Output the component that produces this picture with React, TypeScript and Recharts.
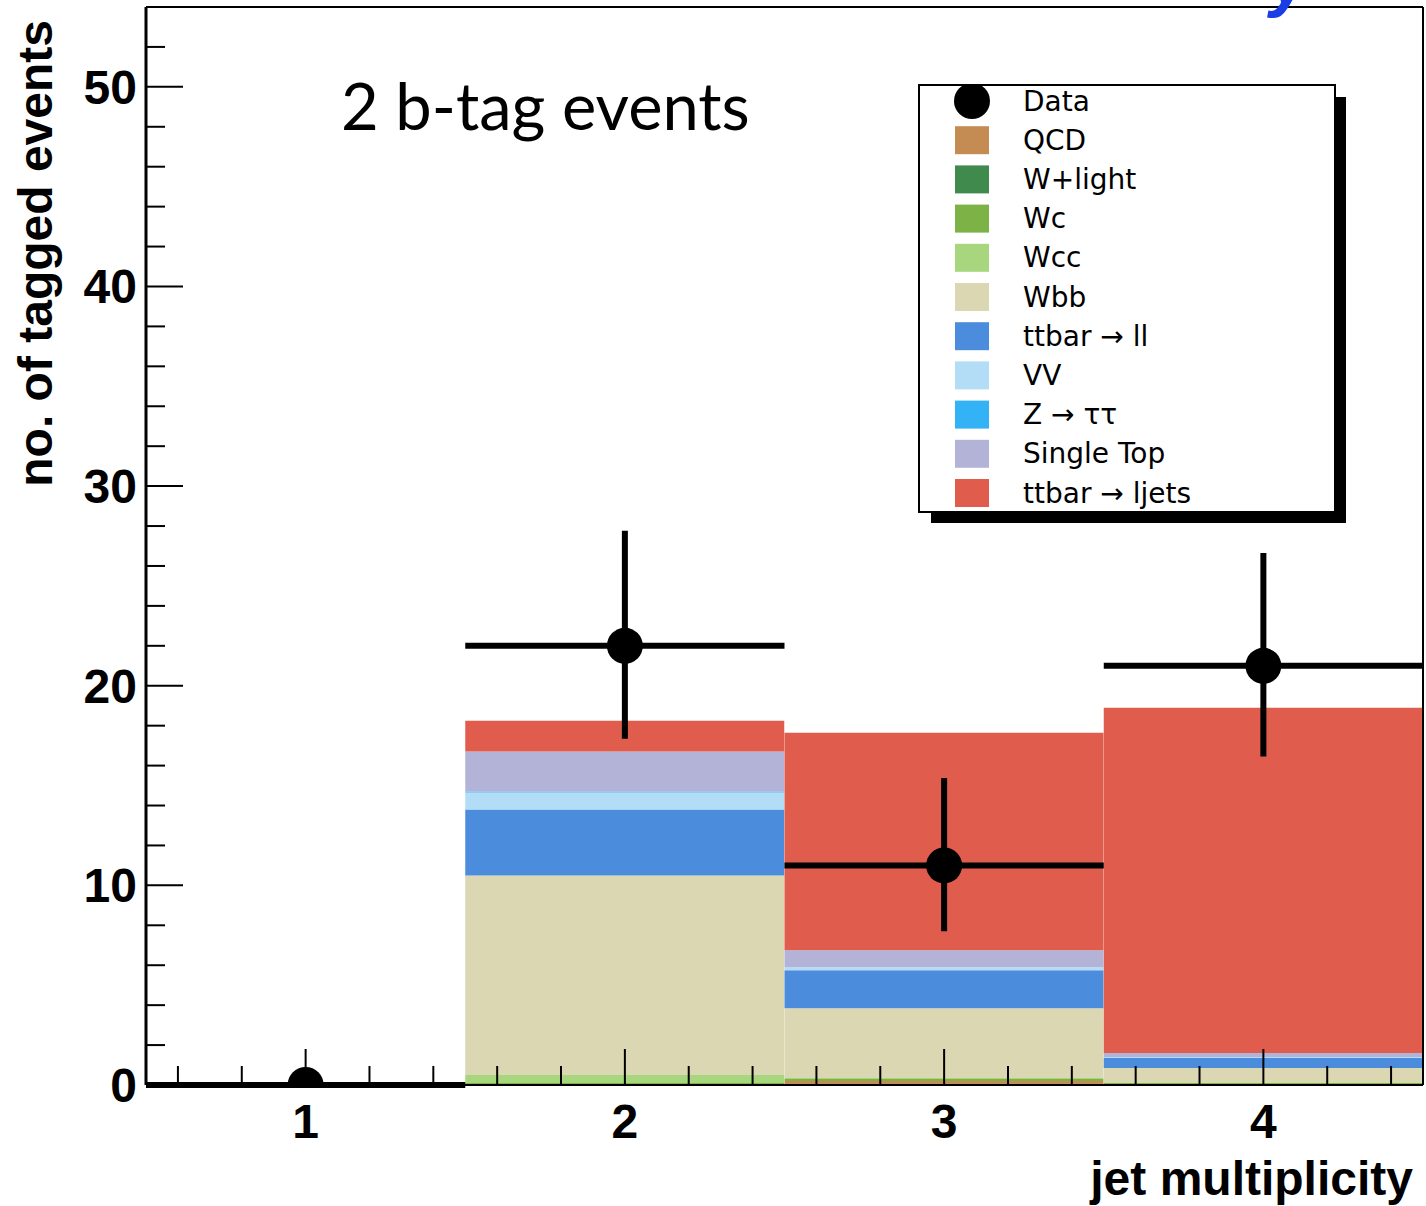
import {
  Bar,
  ComposedChart,
  ErrorBar,
  Label,
  Legend,
  ReferenceLine,
  Scatter,
  XAxis,
  YAxis,
} from "recharts";

// jet-multiplicity bins
const bins = ["1", "2", "3", "4"];
const binCentres = [1, 2, 3, 4];
const binHalfWidth = [0.5, 0.5, 0.5, 0.5];

// expected events per bin, stacked bottom to top
const qcd = [0, 0, 0.2, 0.05];
const wLight = [0, 0, 0, 0];
const wc = [0, 0.1, 0.1, 0.05];
const wcc = [0, 0.4, 0.05, 0];
const wbb = [0, 10.0, 3.5, 0.75];
const ttDilepton = [0, 3.3, 1.9, 0.5];
const diboson = [0, 0.85, 0.15, 0.05];
const zTauTau = [0, 0.05, 0, 0];
const singleTop = [0, 2.0, 0.85, 0.2];
const ttLjets = [0, 1.55, 10.9, 17.3];

// observed counts with asymmetric Poisson errors
const observed = [0, 22, 11, 21];
const errDown = [0, 4.65, 3.3, 4.55];
const errUp = [0, 5.76, 4.38, 5.65];

const yTicks = [0, 2, 4, 6, 8, 10, 12, 14, 16, 18, 20, 22, 24, 26, 28, 30, 32, 34, 36, 38, 40, 42, 44, 46, 48, 50, 52];
const xTicks = [0.6, 0.8, 1, 1.2, 1.4, 1.6, 1.8, 2, 2.2, 2.4, 2.6, 2.8, 3, 3.2, 3.4, 3.6, 3.8, 4, 4.2, 4.4];

const components = [
  { key: "qcd", name: "QCD", color: "#c48c52", values: qcd },
  { key: "wLight", name: "W+light", color: "#3f8a4c", values: wLight },
  { key: "wc", name: "Wc", color: "#7cb246", values: wc },
  { key: "wcc", name: "Wcc", color: "#a8d67e", values: wcc },
  { key: "wbb", name: "Wbb", color: "#dad7b2", values: wbb },
  { key: "ttDilepton", name: "ttbar \u2192 ll", color: "#4b8ddc", values: ttDilepton },
  { key: "diboson", name: "VV", color: "#b3dcf6", values: diboson },
  { key: "zTauTau", name: "Z \u2192 \u03c4\u03c4", color: "#34b2f6", values: zTauTau },
  { key: "singleTop", name: "Single Top", color: "#b3b3d8", values: singleTop },
  { key: "ttLjets", name: "ttbar \u2192 ljets", color: "#e05c4d", values: ttLjets },
];

const rows = bins.map((bin, i) => {
  const row: Record<string, unknown> = {
    bin,
    x: binCentres[i],
    data: observed[i],
    xErr: binHalfWidth[i],
    yErr: [errDown[i], errUp[i]],
  };
  components.forEach((c) => {
    row[c.key] = c.values[i];
  });
  return row;
});

const boldFont = "'Liberation Sans', Arial, Helvetica, sans-serif";

function YTick({ x, y, payload }: any) {
  const v = payload.value as number;
  const major = v % 10 === 0;
  return (
    <g>
      <line x1={x} y1={y} x2={x + (major ? 37 : 19)} y2={y} stroke="#000" strokeWidth={2} />
      {major && (
        <text x={x - 9} y={y + 17} textAnchor="end" fontFamily={boldFont} fontWeight="bold" fontSize={48} fill="#000">
          {v}
        </text>
      )}
    </g>
  );
}

function XTick({ x, y, payload }: any) {
  const v = payload.value as number;
  const major = Math.abs(v - Math.round(v)) < 1e-6;
  return (
    <g>
      <line x1={x} y1={y} x2={x} y2={y - (major ? 36 : 19)} stroke="#000" strokeWidth={2} />
      {major && (
        <text x={x} y={y + 53} textAnchor="middle" fontFamily={boldFont} fontWeight="bold" fontSize={48} fill="#000">
          {Math.round(v)}
        </text>
      )}
    </g>
  );
}

function DataDot({ cx, cy }: any) {
  return <circle cx={cx} cy={cy} r={18} fill="#000" />;
}

// ROOT-style legend box with drop shadow
function LegendBox() {
  const rowStep = 39.2;
  const first = 17;
  return (
    <svg width={432} height={442} style={{ display: "block" }}>
      <rect x={418} y={13} width={10} height={426} fill="#000" />
      <rect x={13} y={429} width={415} height={10} fill="#000" />
      <rect x={1} y={1} width={416} height={427} fill="#fff" stroke="#000" strokeWidth={2} />
      <circle cx={54} cy={first} r={18} fill="#000" />
      <text x={105} y={first} dominantBaseline="central" fontFamily="'DejaVu Sans', sans-serif" fontSize={28} fill="#000">
        Data
      </text>
      {components.map((c, i) => {
        const cy = first + rowStep * (i + 1);
        return (
          <g key={c.key}>
            <rect x={37} y={cy - 14} width={34} height={28} fill={c.color} />
            <text x={105} y={cy} dominantBaseline="central" fontFamily="'DejaVu Sans', sans-serif" fontSize={28} fill="#000">
              {c.name}
            </text>
          </g>
        );
      })}
    </svg>
  );
}

export default function App() {
  return (
    <div
      style={{
        position: "absolute",
        left: 0,
        top: 0,
        width: 1426,
        height: 1206,
        background: "#fff",
        overflow: "hidden",
      }}
    >
      <ComposedChart
        width={1426}
        height={1206}
        data={rows}
        margin={{ top: 7, right: 3, left: 0, bottom: 0 }}
        barCategoryGap={0}
        barGap={0}
      >
        <XAxis
          xAxisId="num"
          dataKey="x"
          type="number"
          domain={[0.5, 4.5]}
          allowDataOverflow
          ticks={xTicks}
          interval={0}
          height={121}
          tickSize={0}
          tickMargin={0}
          tickLine={false}
          tick={<XTick />}
          axisLine={{ stroke: "#000", strokeWidth: 2 }}
        >
          <Label
            content={() => (
              <text x={1413} y={1195} textAnchor="end" fontFamily={boldFont} fontWeight="bold" fontSize={48} fill="#000">
                jet multiplicity
              </text>
            )}
          />
        </XAxis>
        <XAxis xAxisId="bins" dataKey="bin" type="category" hide height={0} />
        {components.map((c) => (
          <Bar
            key={c.key}
            xAxisId="bins"
            dataKey={c.key}
            name={c.name}
            stackId="mc"
            fill={c.color}
            isAnimationActive={false}
          />
        ))}
        <YAxis
          type="number"
          domain={[0, 54]}
          allowDataOverflow
          ticks={yTicks}
          interval={0}
          width={146}
          tickSize={0}
          tickMargin={0}
          tickLine={false}
          tick={<YTick />}
          axisLine={{ stroke: "#000", strokeWidth: 3 }}
        >
          <Label
            content={() => (
              <text
                transform="rotate(-90)"
                x={-20}
                y={52}
                textAnchor="end"
                fontFamily={boldFont}
                fontWeight="bold"
                fontSize={48}
                fill="#000"
              >
                no. of tagged events
              </text>
            )}
          />
        </YAxis>
        <ReferenceLine y={54} stroke="#000" strokeWidth={2} />
        <ReferenceLine x={4.5} xAxisId="num" stroke="#000" strokeWidth={2} />
        <Scatter xAxisId="num" dataKey="data" name="Data" fill="#000" shape={<DataDot />} isAnimationActive={false}>
          <ErrorBar dataKey="xErr" direction="x" width={0} stroke="#000" strokeWidth={6} />
          <ErrorBar dataKey="yErr" direction="y" width={0} stroke="#000" strokeWidth={6} />
        </Scatter>
        <Legend
          layout="vertical"
          align="center"
          verticalAlign="middle"
          content={() => <LegendBox />}
          wrapperStyle={{ left: 918, top: 84, width: 432, height: 442 }}
        />
      </ComposedChart>
      <svg
        width={1426}
        height={1206}
        style={{ position: "absolute", left: 0, top: 0, pointerEvents: "none" }}
      >
        <text x={341} y={130} fontFamily="Lato, 'Open Sans', sans-serif" fontSize={65} fill="#000">
          2 b-tag events
        </text>
        <text
          x={1270}
          y={3}
          fontFamily={boldFont}
          fontStyle="italic"
          fontWeight="bold"
          fontSize={70}
          fill="#1a3de6"
        >
          y
        </text>
      </svg>
    </div>
  );
}
